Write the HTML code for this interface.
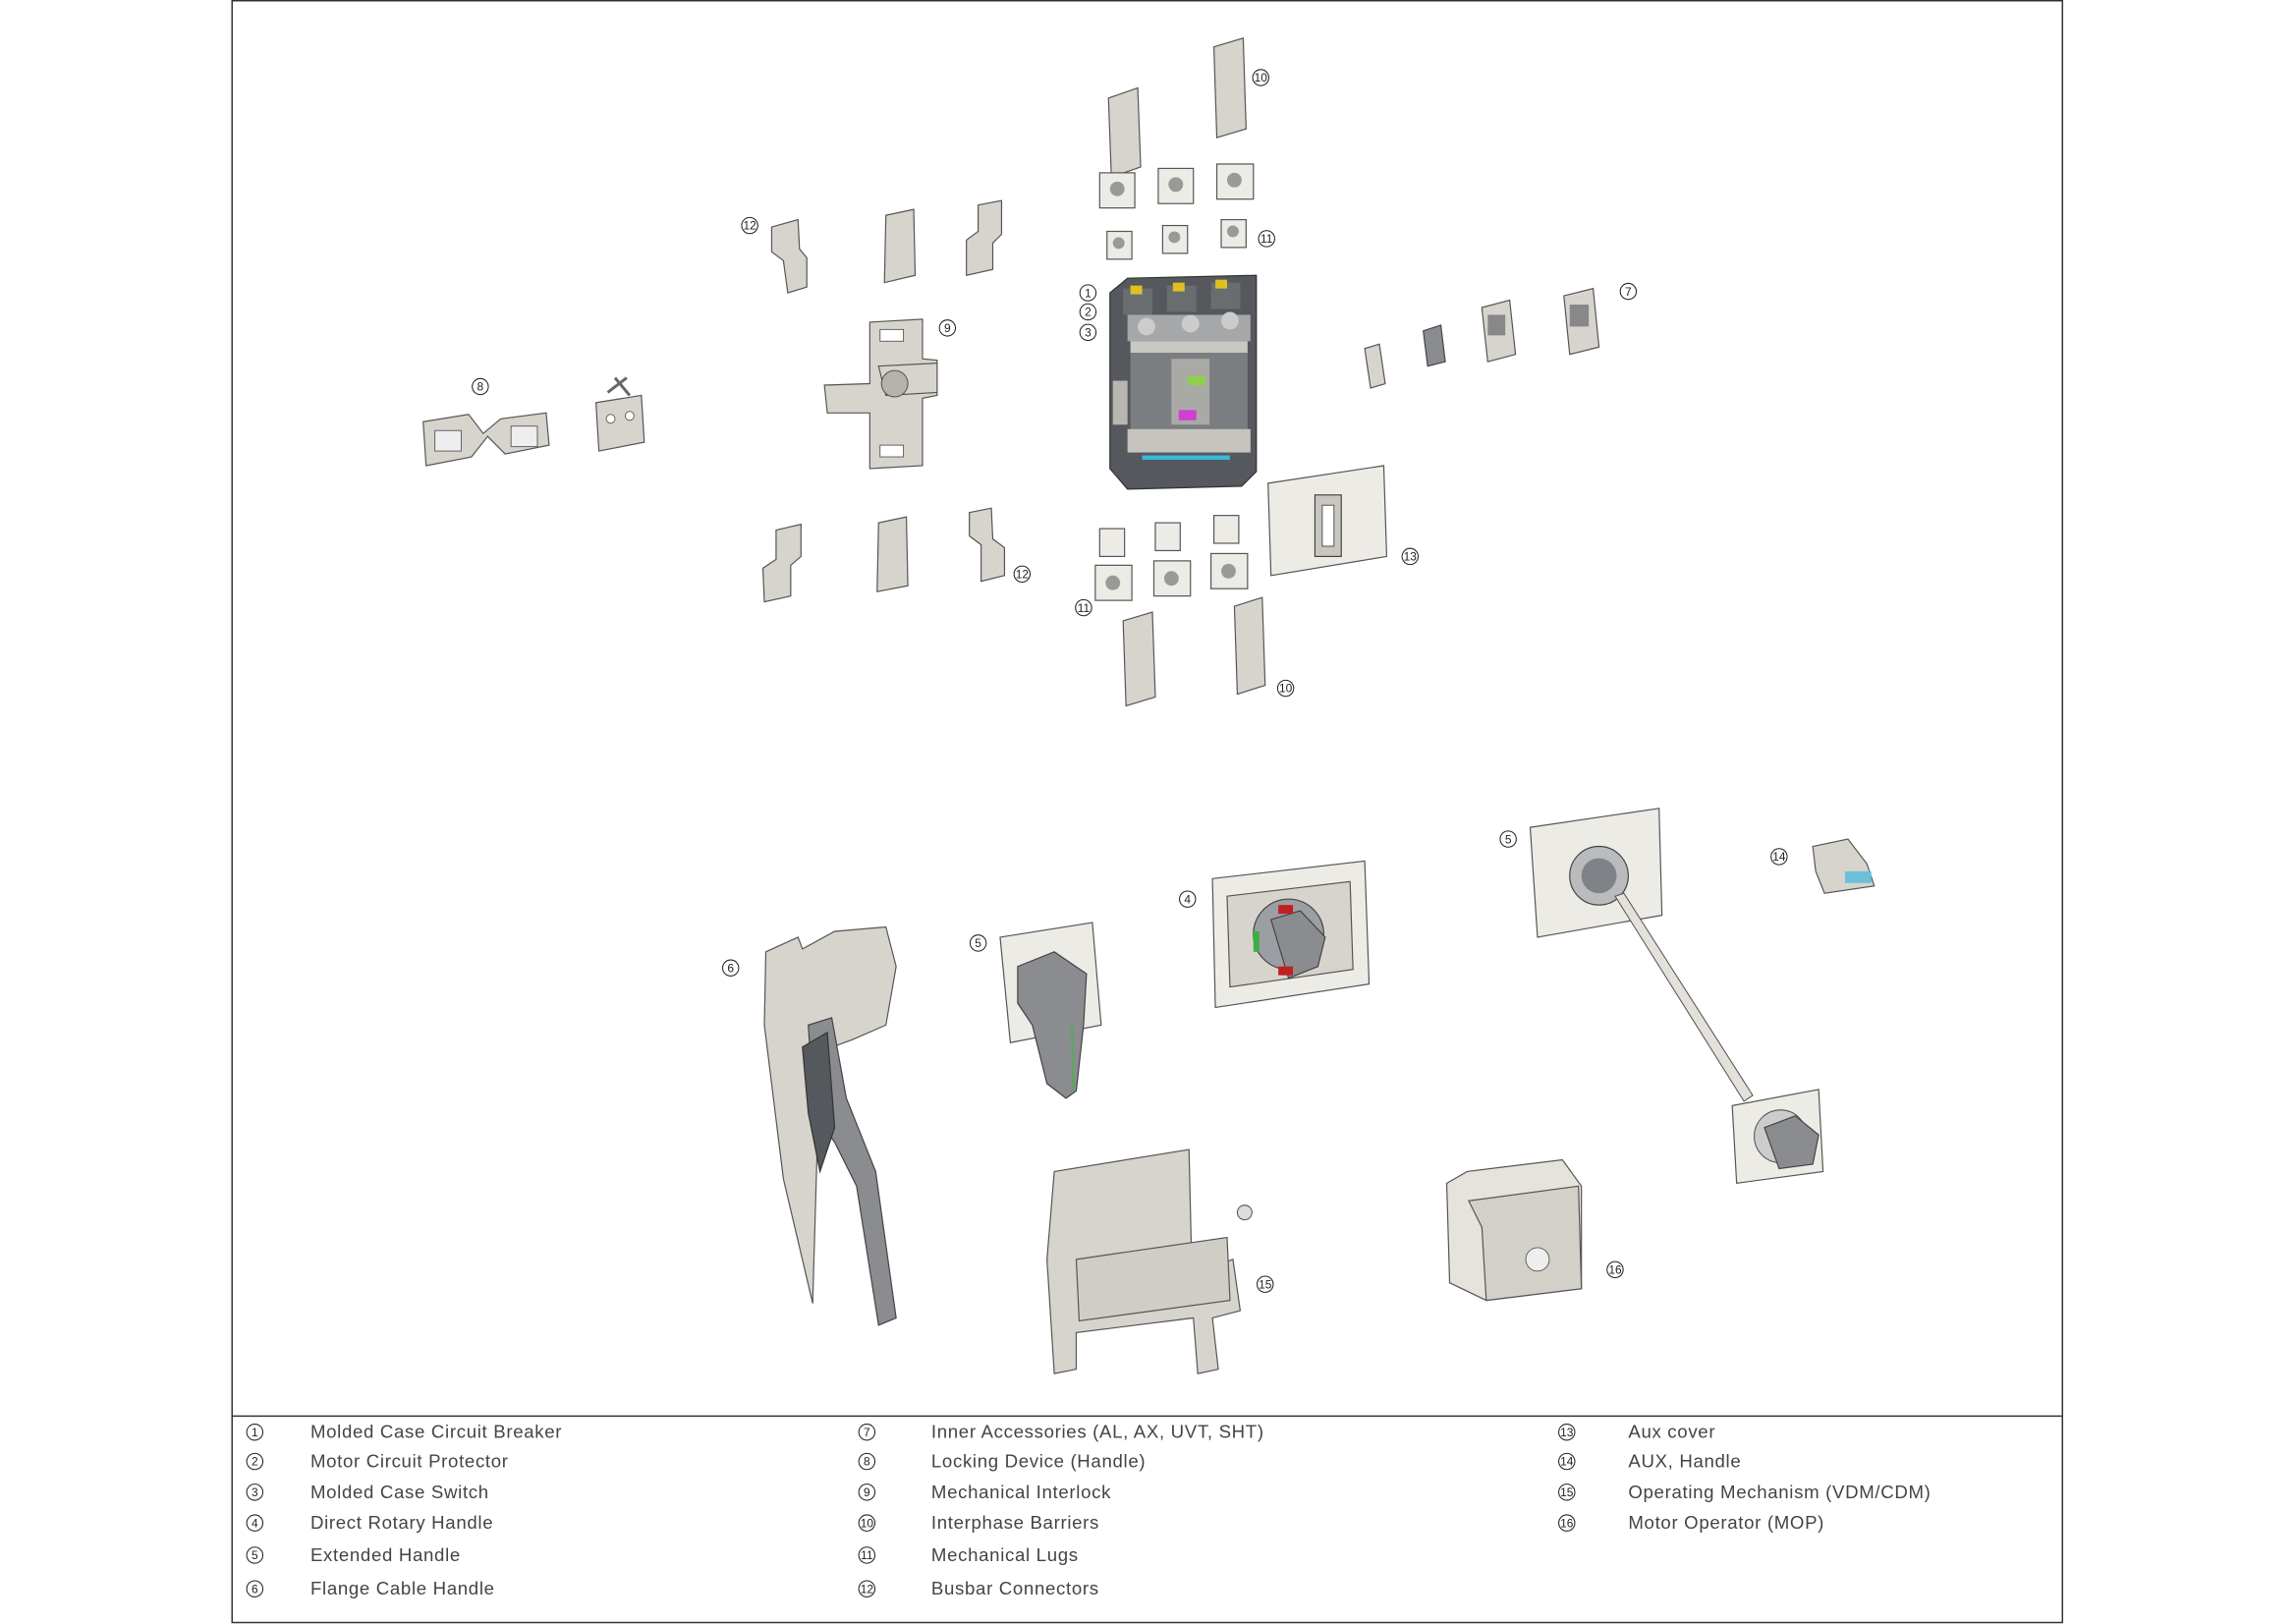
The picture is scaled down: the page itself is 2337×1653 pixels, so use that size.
<!DOCTYPE html>
<html><head><meta charset="utf-8"><style>
html,body{margin:0;padding:0;background:#fff}
svg{display:block}
text{font-family:"Liberation Sans",sans-serif}
.n circle{fill:#fff;stroke:#222;stroke-width:0.7}
.n text{font-size:8px;text-anchor:middle;fill:#222}
.lg{font-size:12.5px;fill:#444;letter-spacing:0.45px}
.p{fill:#d6d4cc;stroke:#555;stroke-width:0.8}
.d{fill:#8a8c90;stroke:#444;stroke-width:0.8}
.k{fill:#55585c;stroke:#333;stroke-width:0.8}
.l{fill:#ecebe6;stroke:#555;stroke-width:0.8}
</style></head><body>
<svg width="2337" height="1653" viewBox="0 0 1568 1109" preserveAspectRatio="none" xmlns="http://www.w3.org/2000/svg">
<rect x="158.5" y="0.5" width="1250" height="1107.5" fill="none" stroke="#333" stroke-width="1"/>
<line x1="158" y1="967" x2="1408" y2="967" stroke="#333" stroke-width="1"/>

<polygon class="p" points="757,67 777,60 779,114 759,121"/>
<polygon class="p" points="829,32 849,26 851,88 831,94"/>
<polygon class="p" points="767,424 787,418 789,476 769,482"/>
<polygon class="p" points="843,414 862,408 864,468 845,474"/>
<rect class="l" x="751" y="118" width="24" height="24"/><circle cx="763" cy="129" r="5" fill="#999"/>
<rect class="l" x="791" y="115" width="24" height="24"/><circle cx="803" cy="126" r="5" fill="#999"/>
<rect class="l" x="831" y="112" width="25" height="24"/><circle cx="843" cy="123" r="5" fill="#999"/>
<rect class="l" x="756" y="158" width="17" height="19"/><circle cx="764" cy="166" r="4" fill="#999"/>
<rect class="l" x="794" y="154" width="17" height="19"/><circle cx="802" cy="162" r="4" fill="#999"/>
<rect class="l" x="834" y="150" width="17" height="19"/><circle cx="842" cy="158" r="4" fill="#999"/>
<rect class="l" x="751" y="361" width="17" height="19"/>
<rect class="l" x="789" y="357" width="17" height="19"/>
<rect class="l" x="829" y="352" width="17" height="19"/>
<rect class="l" x="748" y="386" width="25" height="24"/><circle cx="760" cy="398" r="5" fill="#999"/>
<rect class="l" x="788" y="383" width="25" height="24"/><circle cx="800" cy="395" r="5" fill="#999"/>
<rect class="l" x="827" y="378" width="25" height="24"/><circle cx="839" cy="390" r="5" fill="#999"/>
<polygon class="k" points="758,200 770,190 858,188 858,322 848,332 770,334 758,320"/>
<rect x="767" y="197" width="20" height="18" fill="#6a6d70"/><rect x="797" y="195" width="20" height="18" fill="#6a6d70"/><rect x="827" y="193" width="20" height="18" fill="#6a6d70"/>
<rect x="772" y="195" width="8" height="6" fill="#e0c020"/><rect x="801" y="193" width="8" height="6" fill="#e0c020"/><rect x="830" y="191" width="8" height="6" fill="#e0c020"/>
<rect x="770" y="215" width="84" height="18" fill="#a5a7a8"/>
<circle cx="783" cy="223" r="6" fill="#ccc"/><circle cx="813" cy="221" r="6" fill="#ccc"/><circle cx="840" cy="219" r="6" fill="#ccc"/>
<rect x="772" y="233" width="80" height="8" fill="#c9c8c2"/>
<rect x="772" y="241" width="80" height="52" fill="#7b7e80"/>
<rect x="800" y="245" width="26" height="45" fill="#a9aaa6"/>
<rect x="811" y="257" width="12" height="6" fill="#8fd04a"/>
<rect x="805" y="280" width="12" height="7" fill="#d040d0"/>
<rect x="770" y="293" width="84" height="16" fill="#c5c4be"/>
<rect x="780" y="311" width="60" height="3" fill="#3ab8d8"/>
<rect x="760" y="260" width="10" height="30" fill="#b8b6ae"/>
<polygon class="p" points="527,155 545,150 546,170 551,176 551,196 538,200 535,178 527,172"/>
<polygon class="p" points="605,147 624,143 625,188 604,193"/>
<polygon class="p" points="668,140 684,137 684,160 678,166 678,184 660,188 660,164 668,158"/>
<polygon class="p" points="530,362 547,358 547,380 540,386 540,407 522,411 521,388 530,382"/>
<polygon class="p" points="600,357 619,353 620,400 599,404"/>
<polygon class="p" points="662,350 677,347 678,368 686,374 686,393 670,397 670,372 662,366"/>
<polygon class="p" points="594,220 630,218 630,245 640,246 640,270 630,272 630,318 594,320 594,282 565,282 563,263 594,262"/>
<polygon class="p" points="640,248 640,268 605,270 600,250"/>
<circle cx="611" cy="262" r="9" fill="#b5b3ab" stroke="#555" stroke-width="0.7"/>
<rect x="601" y="225" width="16" height="8" fill="#fff" stroke="#555" stroke-width="0.6"/>
<rect x="601" y="304" width="16" height="8" fill="#fff" stroke="#555" stroke-width="0.6"/>
<polygon class="p" points="289,288 320,283 330,296 342,286 373,282 375,304 345,310 333,298 322,312 291,318"/>
<rect x="297" y="294" width="18" height="14" fill="#eee" stroke="#555" stroke-width="0.6"/>
<rect x="349" y="291" width="18" height="14" fill="#eee" stroke="#555" stroke-width="0.6"/>
<polygon class="p" points="407,275 438,270 440,302 409,308"/>
<path d="M415 268 L428 258 M420 258 L430 270" stroke="#666" stroke-width="2" fill="none"/>
<circle cx="417" cy="286" r="3" fill="#fff" stroke="#555" stroke-width="0.6"/><circle cx="430" cy="284" r="3" fill="#fff" stroke="#555" stroke-width="0.6"/>
<polygon class="p" points="932,238 942,235 946,262 936,265"/>
<polygon class="d" points="972,226 984,222 987,247 975,250" fill="#7d8083"/>
<polygon class="p" points="1012,210 1031,205 1035,242 1016,247"/>
<rect x="1016" y="215" width="12" height="14" fill="#888"/>
<polygon class="p" points="1068,202 1088,197 1092,237 1072,242"/>
<rect x="1072" y="208" width="13" height="15" fill="#888"/>
<polygon class="l" points="866,330 945,318 947,380 868,393"/>
<rect x="898" y="338" width="18" height="42" fill="#c8c6bf" stroke="#444" stroke-width="0.8"/>
<rect x="903" y="345" width="8" height="28" fill="#fff" stroke="#444" stroke-width="0.6"/>

<polygon class="p" points="523,650 545,640 548,648 570,636 605,633 612,660 605,700 582,710 560,718 555,890 535,805 522,700"/>
<polygon class="d" points="552,700 568,695 578,750 598,800 612,900 600,905 585,810 570,780 556,760"/>
<polygon class="k" points="548,715 565,705 570,770 560,800 552,760"/>
<polygon class="l" points="683,640 746,630 752,700 690,712"/>
<polygon class="d" points="695,660 720,650 742,665 740,700 735,745 728,750 715,740 705,700 695,685"/>
<line x1="732" y1="700" x2="733" y2="745" stroke="#4cb050" stroke-width="1.2"/>
<polygon class="l" points="828,600 932,588 935,672 830,688"/>
<polygon class="p" points="838,612 922,602 924,662 840,674"/>
<circle cx="880" cy="638" r="24" fill="#9b9ea2" stroke="#444" stroke-width="0.8"/>
<polygon class="d" points="868,628 888,622 905,640 900,660 880,668"/>
<rect x="873" y="618" width="10" height="6" fill="#c02020"/><rect x="873" y="660" width="10" height="6" fill="#c02020"/>
<rect x="856" y="636" width="4" height="14" fill="#3bb040"/>
<polygon class="l" points="1045,565 1133,552 1135,625 1050,640"/>
<circle cx="1092" cy="598" r="20" fill="#b9bbbd" stroke="#444" stroke-width="0.8"/>
<circle cx="1092" cy="598" r="12" fill="#7f8387"/>
<polygon points="1103,612 1109,610 1197,748 1191,752" fill="#e3e1da" stroke="#555" stroke-width="0.7"/>
<polygon class="l" points="1183,755 1242,744 1245,800 1186,808"/>
<circle cx="1216" cy="776" r="18" fill="#ccc" stroke="#555" stroke-width="0.7"/>
<polygon class="d" points="1205,770 1226,762 1242,775 1238,795 1215,798"/>
<polygon class="p" points="1238,578 1262,573 1275,590 1280,605 1246,610 1240,595"/>
<rect x="1260" y="595" width="18" height="8" fill="#6cc0d8"/>
<polygon class="p" points="720,800 812,785 814,870 842,860 847,895 828,900 832,935 818,938 815,900 735,910 735,935 720,938 715,860"/>
<polygon points="735,860 838,845 840,888 737,902" fill="#cfcdc5" stroke="#555" stroke-width="0.8"/>
<circle cx="850" cy="828" r="5" fill="#ddd" stroke="#555" stroke-width="0.7"/>
<polygon points="988,808 1002,800 1067,792 1080,810 1080,880 1015,888 990,876" fill="#e5e3dc" stroke="#555" stroke-width="0.8"/>
<polygon points="1003,820 1078,810 1080,880 1015,888 1012,838" fill="#d2d0c8" stroke="#555" stroke-width="0.8"/>
<circle cx="1050" cy="860" r="8" fill="#eee" stroke="#555" stroke-width="0.6"/>

<g class="n">
<g transform="translate(861,53)"><circle r="5.5"/><text y="2.8">10</text></g>
<g transform="translate(865,163)"><circle r="5.5"/><text y="2.8">11</text></g>
<g transform="translate(512,154)"><circle r="5.5"/><text y="2.8">12</text></g>
<g transform="translate(743,200)"><circle r="5.5"/><text y="2.8">1</text></g>
<g transform="translate(743,213)"><circle r="5.5"/><text y="2.8">2</text></g>
<g transform="translate(743,227)"><circle r="5.5"/><text y="2.8">3</text></g>
<g transform="translate(647,224)"><circle r="5.5"/><text y="2.8">9</text></g>
<g transform="translate(1112,199)"><circle r="5.5"/><text y="2.8">7</text></g>
<g transform="translate(328,264)"><circle r="5.5"/><text y="2.8">8</text></g>
<g transform="translate(963,380)"><circle r="5.5"/><text y="2.8">13</text></g>
<g transform="translate(698,392)"><circle r="5.5"/><text y="2.8">12</text></g>
<g transform="translate(740,415)"><circle r="5.5"/><text y="2.8">11</text></g>
<g transform="translate(878,470)"><circle r="5.5"/><text y="2.8">10</text></g>
<g transform="translate(1030,573)"><circle r="5.5"/><text y="2.8">5</text></g>
<g transform="translate(1215,585)"><circle r="5.5"/><text y="2.8">14</text></g>
<g transform="translate(811,614)"><circle r="5.5"/><text y="2.8">4</text></g>
<g transform="translate(668,644)"><circle r="5.5"/><text y="2.8">5</text></g>
<g transform="translate(499,661)"><circle r="5.5"/><text y="2.8">6</text></g>
<g transform="translate(864,877)"><circle r="5.5"/><text y="2.8">15</text></g>
<g transform="translate(1103,867)"><circle r="5.5"/><text y="2.8">16</text></g>
<g transform="translate(174,978)"><circle r="5.5"/><text y="2.8">1</text></g>
<g transform="translate(174,998)"><circle r="5.5"/><text y="2.8">2</text></g>
<g transform="translate(174,1019)"><circle r="5.5"/><text y="2.8">3</text></g>
<g transform="translate(174,1040)"><circle r="5.5"/><text y="2.8">4</text></g>
<g transform="translate(174,1062)"><circle r="5.5"/><text y="2.8">5</text></g>
<g transform="translate(174,1085)"><circle r="5.5"/><text y="2.8">6</text></g>
<g transform="translate(592,978)"><circle r="5.5"/><text y="2.8">7</text></g>
<g transform="translate(592,998)"><circle r="5.5"/><text y="2.8">8</text></g>
<g transform="translate(592,1019)"><circle r="5.5"/><text y="2.8">9</text></g>
<g transform="translate(592,1040)"><circle r="5.5"/><text y="2.8">10</text></g>
<g transform="translate(592,1062)"><circle r="5.5"/><text y="2.8">11</text></g>
<g transform="translate(592,1085)"><circle r="5.5"/><text y="2.8">12</text></g>
<g transform="translate(1070,978)"><circle r="5.5"/><text y="2.8">13</text></g>
<g transform="translate(1070,998)"><circle r="5.5"/><text y="2.8">14</text></g>
<g transform="translate(1070,1019)"><circle r="5.5"/><text y="2.8">15</text></g>
<g transform="translate(1070,1040)"><circle r="5.5"/><text y="2.8">16</text></g>
</g>
<g class="lg">
<text x="212" y="982">Molded Case Circuit Breaker</text>
<text x="212" y="1002">Motor Circuit Protector</text>
<text x="212" y="1023">Molded Case Switch</text>
<text x="212" y="1044">Direct Rotary Handle</text>
<text x="212" y="1066">Extended Handle</text>
<text x="212" y="1089">Flange Cable Handle</text>
<text x="636" y="982">Inner Accessories (AL, AX, UVT, SHT)</text>
<text x="636" y="1002">Locking Device (Handle)</text>
<text x="636" y="1023">Mechanical Interlock</text>
<text x="636" y="1044">Interphase Barriers</text>
<text x="636" y="1066">Mechanical Lugs</text>
<text x="636" y="1089">Busbar Connectors</text>
<text x="1112" y="982">Aux cover</text>
<text x="1112" y="1002">AUX, Handle</text>
<text x="1112" y="1023">Operating Mechanism (VDM/CDM)</text>
<text x="1112" y="1044">Motor Operator (MOP)</text>
</g>
</svg>
</body></html>
